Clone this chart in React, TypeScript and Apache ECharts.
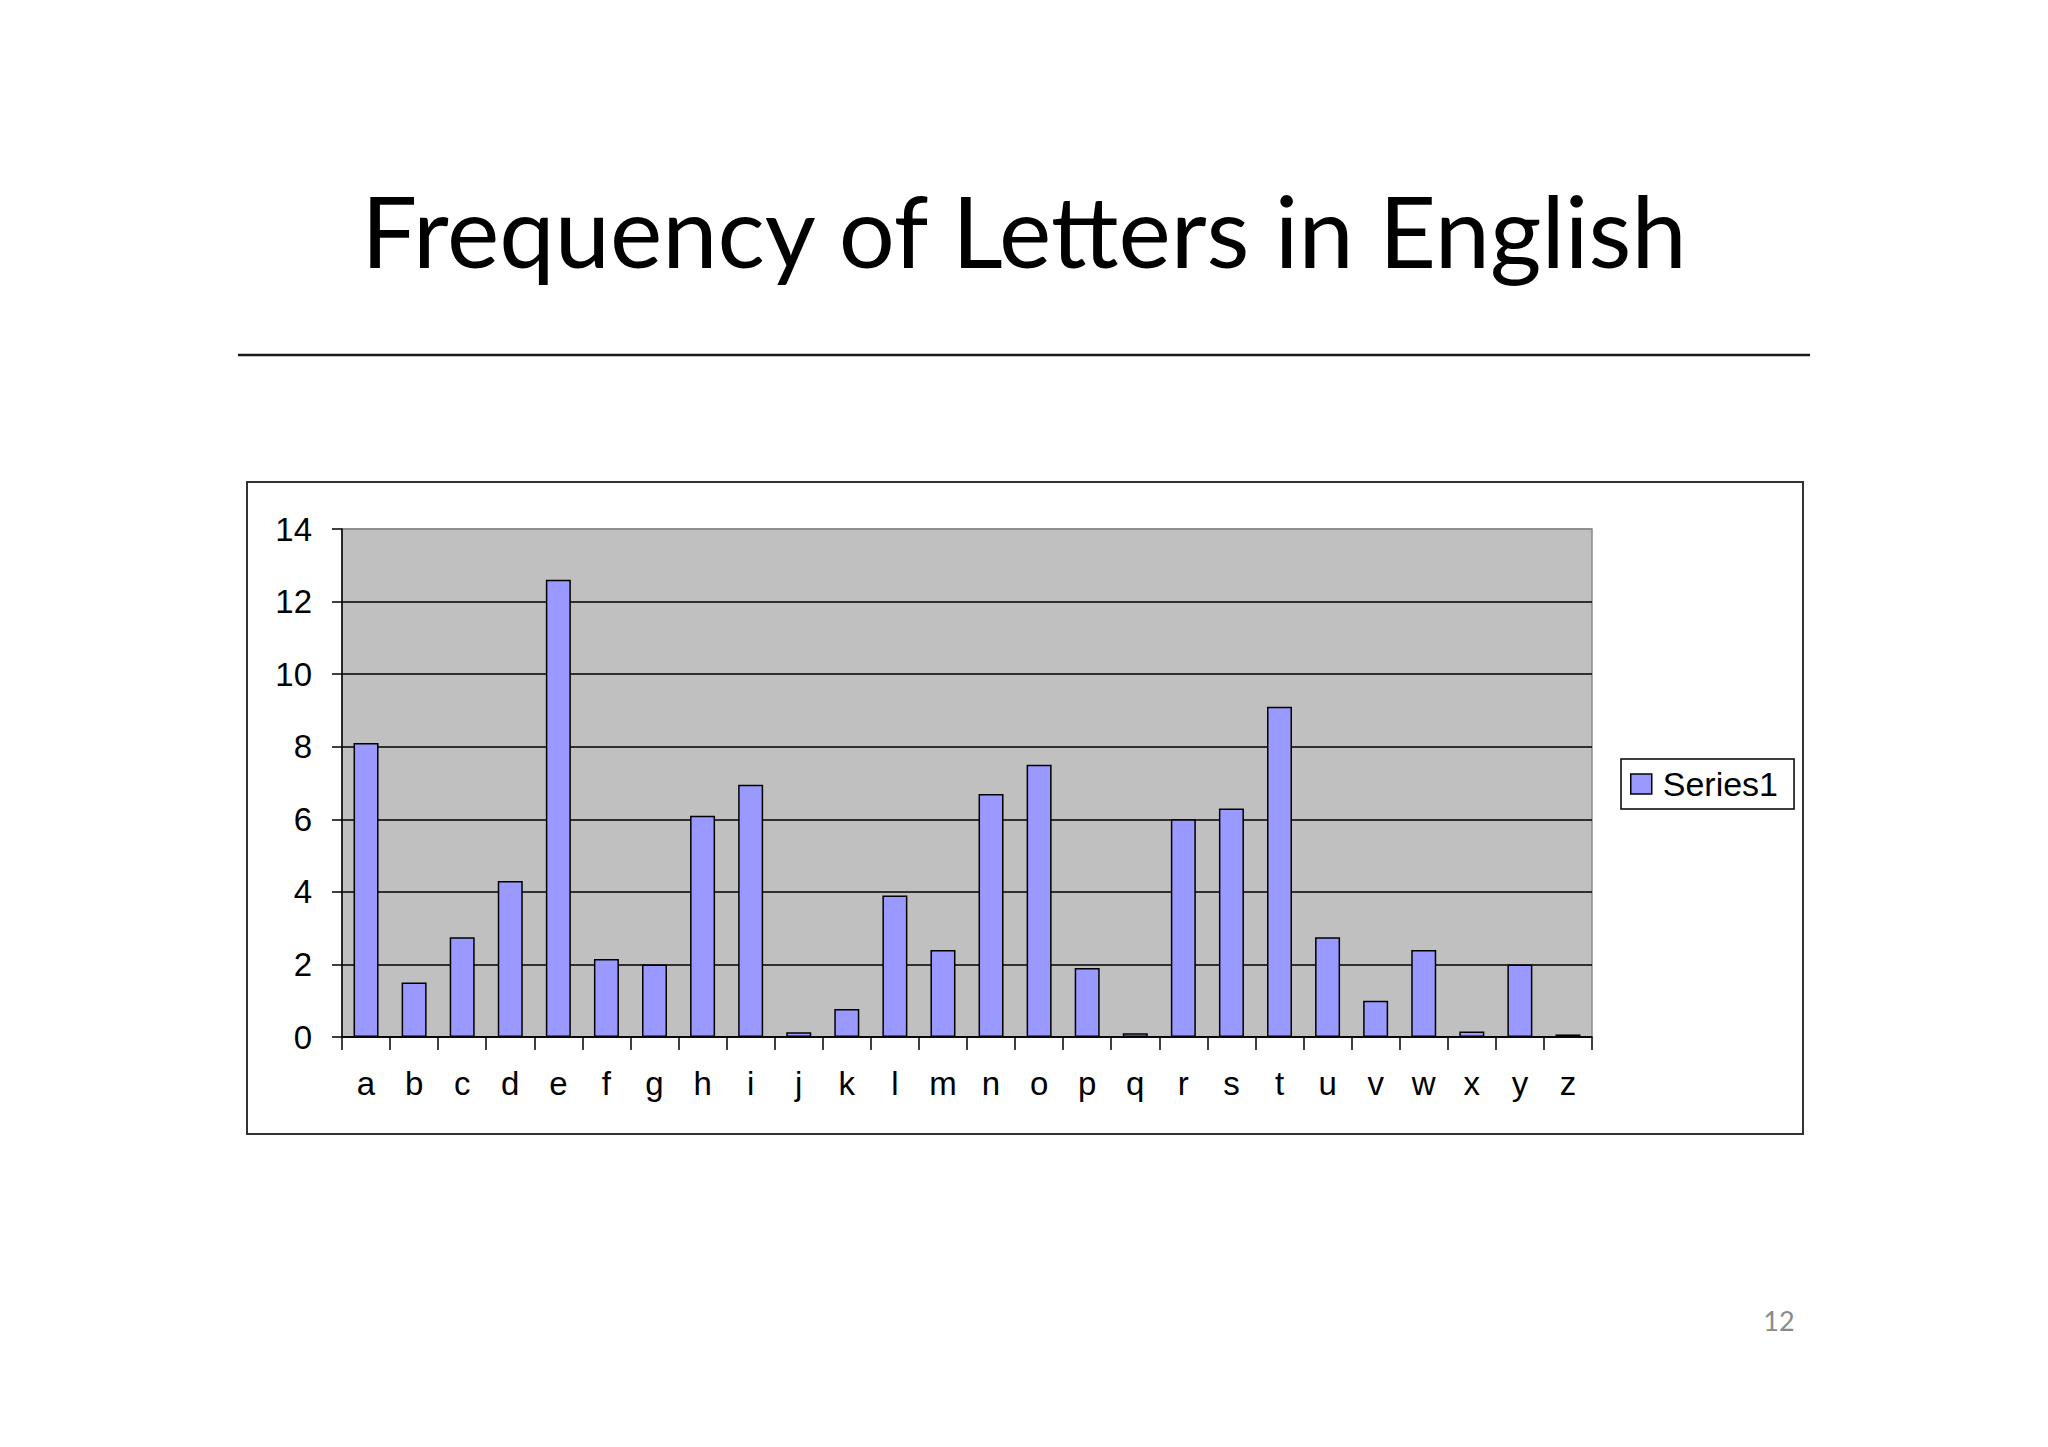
import React, { useEffect, useRef } from "react";
import * as echarts from "echarts";

const TITLE = "Frequency of Letters in English";
const PAGE_NUMBER = "12";
const SERIES_NAME = "Series1";
const letters = ["a","b","c","d","e","f","g","h","i","j","k","l","m","n","o","p","q","r","s","t","u","v","w","x","y","z"];
const frequencies = [8.1, 1.5, 2.75, 4.3, 12.6, 2.15, 2.0, 6.1, 6.95, 0.13, 0.77, 3.9, 2.4, 6.7, 7.5, 1.9, 0.1, 6.0, 6.3, 9.1, 2.75, 1.0, 2.4, 0.15, 2.0, 0.07];
const yMin = 0;
const yMax = 14;
const yInterval = 2;

const CHART_FONT = "'Liberation Sans', Arial, sans-serif";

export default function App() {
  const ref = useRef<HTMLDivElement>(null);
  useEffect(() => {
    if (!ref.current) return;
    const chart = echarts.init(ref.current, undefined, { renderer: "svg" });
    const gridColors = ["#000", "#000", "#000", "#000", "#000", "#000", "#000", "#8a8a8a"];
    chart.setOption({
      animation: false,
      backgroundColor: "#ffffff",
      graphic: [
        {
          type: "text",
          x: 1024,
          y: 229,
          style: {
            text: TITLE,
            fontFamily: "Lato, 'Open Sans', sans-serif",
            fontSize: 99,
            fill: "#000",
            align: "center",
            verticalAlign: "middle",
          },
        },
        {
          type: "line",
          shape: { x1: 238, y1: 355, x2: 1810, y2: 355 },
          style: { stroke: "#1a1a1a", lineWidth: 2.5 },
        },
        {
          type: "rect",
          shape: { x: 247, y: 482, width: 1556, height: 652 },
          style: { fill: "none", stroke: "#333", lineWidth: 2 },
          z: -1,
        },
        {
          type: "text",
          x: 1779,
          y: 1320,
          style: {
            text: PAGE_NUMBER,
            fontFamily: "Lato, sans-serif",
            fontSize: 27,
            fill: "#8a8a8a",
            align: "center",
            verticalAlign: "middle",
          },
        },
      ],
      grid: {
        left: 342,
        top: 529,
        width: 1250,
        height: 508,
        show: true,
        backgroundColor: "#C0C0C0",
        borderColor: "#8a8a8a",
        borderWidth: 1.5,
        containLabel: false,
      },
      legend: {
        show: true,
        data: [SERIES_NAME],
        left: 1621,
        top: 759,
        orient: "vertical",
        backgroundColor: "#fff",
        borderColor: "#000",
        borderWidth: 1.5,
        borderRadius: 0,
        padding: [8, 16, 8, 9],
        itemWidth: 21,
        itemHeight: 20,
        itemGap: 0,
        icon: "rect",
        textStyle: {
          fontFamily: CHART_FONT,
          fontSize: 34,
          color: "#000",
          lineHeight: 30,
          padding: [0, 0, 0, 6],
        },
        itemStyle: { borderColor: "#000", borderWidth: 1.5 },
      },
      xAxis: {
        type: "category",
        data: letters,
        boundaryGap: true,
        axisLine: { show: true, lineStyle: { color: "#000", width: 1.5 } },
        axisTick: { show: true, inside: false, length: 13, interval: 0, lineStyle: { color: "#000", width: 1.5 } },
        axisLabel: {
          interval: 0,
          margin: 30,
          fontFamily: CHART_FONT,
          fontSize: 33,
          color: "#000",
        },
        splitLine: { show: false },
      },
      yAxis: {
        type: "value",
        min: yMin,
        max: yMax,
        interval: yInterval,
        axisLine: { show: true, lineStyle: { color: "#000", width: 1.5 } },
        axisTick: { show: true, inside: false, length: 10, lineStyle: { color: "#000", width: 1.5 } },
        axisLabel: {
          margin: 30,
          fontFamily: CHART_FONT,
          fontSize: 33,
          color: "#000",
          padding: [0, 0, 5, 0],
        },
        splitLine: { show: true, lineStyle: { color: gridColors, width: 1.5 } },
      },
      series: [
        {
          name: SERIES_NAME,
          type: "bar",
          data: frequencies,
          barWidth: 25,
          itemStyle: { color: "#9999FF", borderColor: "#000", borderWidth: 1.5 },
        },
      ],
    });
    return () => chart.dispose();
  }, []);
  return (
    <div
      ref={ref}
      style={{ position: "absolute", left: 0, top: 0, width: 2048, height: 1447, background: "#fff" }}
    />
  );
}
